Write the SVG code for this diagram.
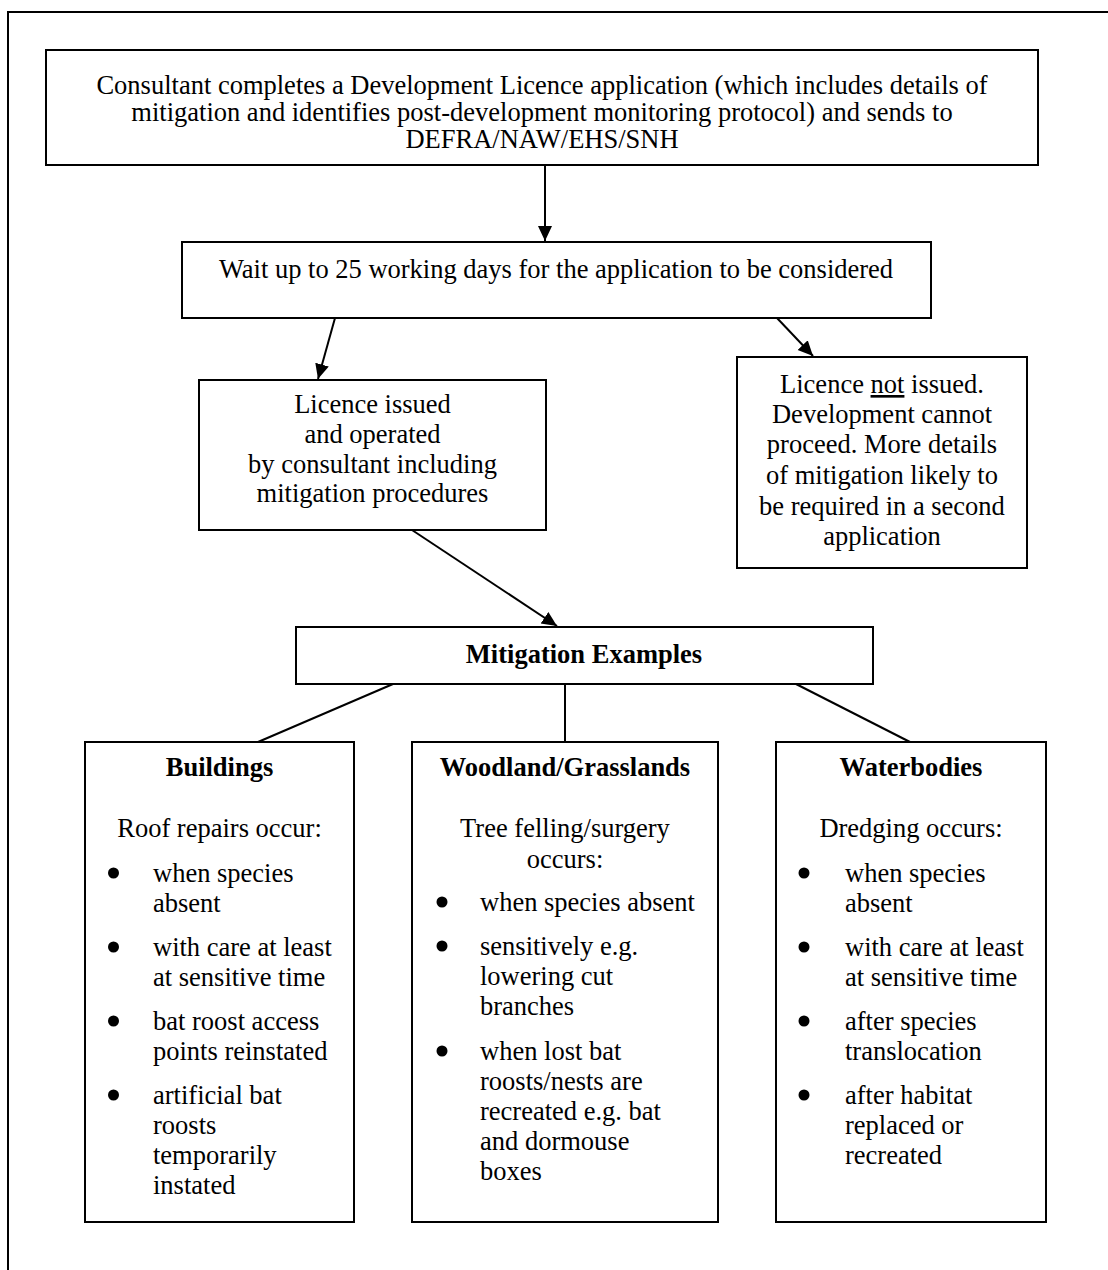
<svg xmlns="http://www.w3.org/2000/svg" width="1108" height="1270" viewBox="0 0 1108 1270">
<style>
.box{fill:#fff;stroke:#000;stroke-width:2}
.t{font-family:"Liberation Serif","Times New Roman",serif;font-size:26.5px;fill:#000}
.c{text-anchor:middle}
.b{font-weight:bold}
.con{stroke:#000;stroke-width:2;fill:none}
.dot{fill:#000}
</style>
<defs>
<marker id="ah" markerUnits="userSpaceOnUse" markerWidth="16" markerHeight="16" viewBox="0 0 16 16" refX="15" refY="8" orient="auto">
<path d="M0,1 L15,8 L0,15 Z" fill="#000"/>
</marker>
</defs>
<rect x="0" y="0" width="1108" height="1270" fill="#fff"/>
<path d="M8,1272 V12 H1110" fill="none" stroke="#000" stroke-width="2"/>
<g id="connectors">
<line class="con" x1="545" y1="165" x2="545" y2="241" marker-end="url(#ah)"/>
<line class="con" x1="335" y1="318" x2="318" y2="379" marker-end="url(#ah)"/>
<line class="con" x1="777" y1="318" x2="813" y2="356" marker-end="url(#ah)"/>
<line class="con" x1="412" y1="530" x2="557" y2="626" marker-end="url(#ah)"/>
<line class="con" x1="393" y1="684" x2="258" y2="742"/>
<line class="con" x1="565" y1="684" x2="565" y2="742"/>
<line class="con" x1="796" y1="684" x2="910" y2="742"/>
</g>
<g id="application">
<rect class="box" x="46" y="50" width="992" height="115"/>
<text class="t c" x="542" y="94">Consultant completes a Development Licence application (which includes details of</text>
<text class="t c" x="542" y="121">mitigation and identifies post-development monitoring protocol) and sends to</text>
<text class="t c" x="542" y="148">DEFRA/NAW/EHS/SNH</text>
</g>
<g id="wait">
<rect class="box" x="182" y="242" width="749" height="76"/>
<text class="t c" x="556" y="278">Wait up to 25 working days for the application to be considered</text>
</g>
<g id="issued">
<rect class="box" x="199" y="380" width="347" height="150"/>
<text class="t c" x="372.5" y="413">Licence issued</text>
<text class="t c" x="372.5" y="443">and operated</text>
<text class="t c" x="372.5" y="473">by consultant including</text>
<text class="t c" x="372.5" y="502">mitigation procedures</text>
</g>
<g id="not-issued">
<rect class="box" x="737" y="357" width="290" height="211"/>
<text class="t c" x="882" y="393">Licence <tspan text-decoration="underline">not</tspan> issued.</text>
<text class="t c" x="882" y="423">Development cannot</text>
<text class="t c" x="882" y="453">proceed. More details</text>
<text class="t c" x="882" y="484">of mitigation likely to</text>
<text class="t c" x="882" y="515">be required in a second</text>
<text class="t c" x="882" y="545">application</text>
</g>
<g id="mitigation">
<rect class="box" x="296" y="627" width="577" height="57"/>
<text class="t c b" x="584" y="663">Mitigation Examples</text>
</g>
<g id="buildings">
<rect class="box" x="85" y="742" width="269" height="480"/>
<text class="t c b" x="219.5" y="776">Buildings</text>
<text class="t c" x="219.5" y="837">Roof repairs occur:</text>
<circle class="dot" cx="113.5" cy="873" r="5.5"/>
<text class="t" x="153" y="882">when species</text>
<text class="t" x="153" y="912">absent</text>
<circle class="dot" cx="113.5" cy="947" r="5.5"/>
<text class="t" x="153" y="956">with care at least</text>
<text class="t" x="153" y="986">at sensitive time</text>
<circle class="dot" cx="113.5" cy="1021" r="5.5"/>
<text class="t" x="153" y="1030">bat roost access</text>
<text class="t" x="153" y="1060">points reinstated</text>
<circle class="dot" cx="113.5" cy="1095" r="5.5"/>
<text class="t" x="153" y="1104">artificial bat</text>
<text class="t" x="153" y="1134">roosts</text>
<text class="t" x="153" y="1164">temporarily</text>
<text class="t" x="153" y="1194">instated</text>
</g>
<g id="woodland">
<rect class="box" x="412" y="742" width="306" height="480"/>
<text class="t c b" x="565" y="776">Woodland/Grasslands</text>
<text class="t c" x="565" y="837">Tree felling/surgery</text>
<text class="t c" x="565" y="868">occurs:</text>
<circle class="dot" cx="442" cy="902" r="5.5"/>
<text class="t" x="480" y="911">when species absent</text>
<circle class="dot" cx="442" cy="946" r="5.5"/>
<text class="t" x="480" y="955">sensitively e.g.</text>
<text class="t" x="480" y="985">lowering cut</text>
<text class="t" x="480" y="1015">branches</text>
<circle class="dot" cx="442" cy="1051" r="5.5"/>
<text class="t" x="480" y="1060">when lost bat</text>
<text class="t" x="480" y="1090">roosts/nests are</text>
<text class="t" x="480" y="1120">recreated e.g. bat</text>
<text class="t" x="480" y="1150">and dormouse</text>
<text class="t" x="480" y="1180">boxes</text>
</g>
<g id="waterbodies">
<rect class="box" x="776" y="742" width="270" height="480"/>
<text class="t c b" x="911" y="776">Waterbodies</text>
<text class="t c" x="911" y="837">Dredging occurs:</text>
<circle class="dot" cx="804" cy="873" r="5.5"/>
<text class="t" x="845" y="882">when species</text>
<text class="t" x="845" y="912">absent</text>
<circle class="dot" cx="804" cy="947" r="5.5"/>
<text class="t" x="845" y="956">with care at least</text>
<text class="t" x="845" y="986">at sensitive time</text>
<circle class="dot" cx="804" cy="1021" r="5.5"/>
<text class="t" x="845" y="1030">after species</text>
<text class="t" x="845" y="1060">translocation</text>
<circle class="dot" cx="804" cy="1095" r="5.5"/>
<text class="t" x="845" y="1104">after habitat</text>
<text class="t" x="845" y="1134">replaced or</text>
<text class="t" x="845" y="1164">recreated</text>
</g>
</svg>
